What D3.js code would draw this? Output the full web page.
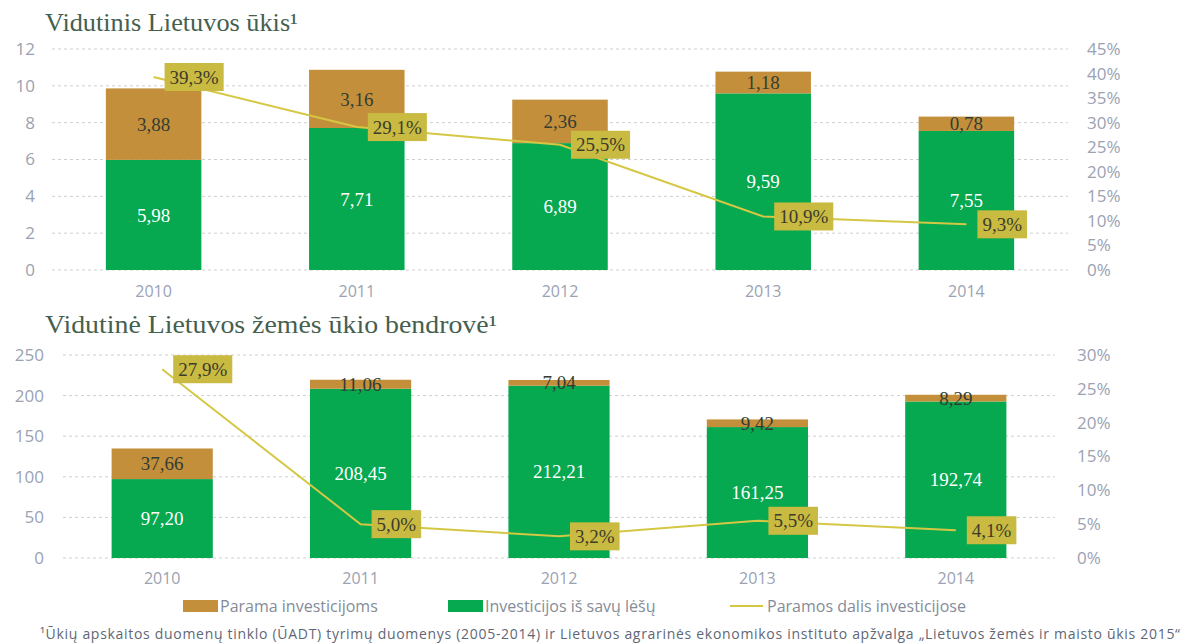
<!DOCTYPE html>
<html>
<head>
<meta charset="utf-8">
<script src="https://cdn.jsdelivr.net/npm/d3@7"></script>
<style>
  body { margin: 0; background: #fff; }
  svg { display: block; }
  .c-axis text { font-family: "Open Sans", sans-serif; fill: #9aa2b3; }
  .c-axis path, .c-axis line { display: none; }
  .c-grid line { stroke: #cfcfcf; stroke-dasharray: 3 3; }
</style>
</head>
<body>
<div id="chart"></div>
<script>
const years = ['2010', '2011', '2012', '2013', '2014'];

// Vidutinis Lietuvos ūkis
const farmSupport = [3.88, 3.16, 2.36, 1.18, 0.78];
const farmOwn = [5.98, 7.71, 6.89, 9.59, 7.55];
const farmShare = [39.3, 29.1, 25.5, 10.9, 9.3];
const farmTicks = [0, 2, 4, 6, 8, 10, 12];
const farmShareTicks = [0, 5, 10, 15, 20, 25, 30, 35, 40, 45];

// Vidutinė Lietuvos žemės ūkio bendrovė
const companySupport = [37.66, 11.06, 7.04, 9.42, 8.29];
const companyOwn = [97.20, 208.45, 212.21, 161.25, 192.74];
const companyShare = [27.9, 5.0, 3.2, 5.5, 4.1];
const companyTicks = [0, 50, 100, 150, 200, 250];
const companyShareTicks = [0, 5, 10, 15, 20, 25, 30];

const legendLabels = ['Parama investicijoms', 'Investicijos iš savų lėšų', 'Paramos dalis investicijose'];

const colorSupport = '#c48f3b';
const colorOwn = '#06a850';
const colorLine = '#d5c744';
const colorBox = '#c9ba41';

const width = 1185;
const height = 644;

const svg = d3.select('#chart').append('svg')
  .attr('width', width)
  .attr('height', height);

const comma = (v, digits) => v.toFixed(digits).replace('.', ',');

function drawPanel (cfg) {
  const g = svg.append('g');

  g.append('text')
    .attr('x', 45)
    .attr('y', cfg.titleY)
    .attr('font-family', '"Liberation Serif", serif')
    .attr('font-size', 25)
    .attr('fill', '#45604f')
    .attr('textLength', cfg.titleLength)
    .attr('lengthAdjust', 'spacingAndGlyphs')
    .text(cfg.title);

  const x = d3.scaleBand().domain(years).range([cfg.left, cfg.right]).paddingInner(cfg.pad).paddingOuter(cfg.pad / 2);
  const y = d3.scaleLinear().domain([0, d3.max(cfg.ticks)]).range([cfg.bottom, cfg.top]);
  const y2 = d3.scaleLinear().domain([0, d3.max(cfg.shareTicks)]).range([cfg.bottom, cfg.top]);

  g.append('g')
    .attr('class', 'c-grid')
    .selectAll('line')
    .data(cfg.ticks)
    .enter()
    .append('line')
    .attr('x1', cfg.left)
    .attr('x2', cfg.right)
    .attr('y1', d => y(d))
    .attr('y2', d => y(d));

  g.append('g')
    .attr('class', 'c-axis')
    .attr('transform', 'translate(' + (cfg.left - 8) + ',0)')
    .call(d3.axisLeft(y).tickValues(cfg.ticks).tickSize(0).tickPadding(cfg.leftPad))
    .selectAll('text').attr('font-size', 17);

  g.append('g')
    .attr('class', 'c-axis')
    .attr('transform', 'translate(' + cfg.rightAxisX + ',0)')
    .call(d3.axisRight(y2).tickValues(cfg.shareTicks).tickSize(0).tickPadding(0).tickFormat(d => d + '%'))
    .selectAll('text').attr('font-size', 17);

  g.append('g')
    .attr('class', 'c-axis')
    .attr('transform', 'translate(0,' + cfg.bottom + ')')
    .call(d3.axisBottom(x).tickSize(0).tickPadding(cfg.yearPad))
    .selectAll('text').attr('font-size', 16);

  const rows = years.map((yr, i) => ({ year: yr, own: cfg.own[i], support: cfg.support[i], share: cfg.share[i] }));

  const bars = g.append('g').selectAll('g').data(rows).enter().append('g');

  bars.append('rect')
    .attr('x', d => x(d.year))
    .attr('width', x.bandwidth())
    .attr('y', d => y(d.own))
    .attr('height', d => y(0) - y(d.own))
    .attr('fill', colorOwn);

  bars.append('rect')
    .attr('x', d => x(d.year))
    .attr('width', x.bandwidth())
    .attr('y', d => y(d.own + d.support))
    .attr('height', d => y(d.own) - y(d.own + d.support))
    .attr('fill', colorSupport);

  bars.append('text')
    .attr('x', d => x(d.year) + x.bandwidth() / 2)
    .attr('y', d => y(d.own / 2))
    .attr('dy', '0.35em')
    .attr('text-anchor', 'middle')
    .attr('font-family', '"Liberation Serif", serif')
    .attr('font-size', 19)
    .attr('fill', '#fff')
    .text(d => comma(d.own, 2));

  bars.append('text')
    .attr('x', d => x(d.year) + x.bandwidth() / 2)
    .attr('y', d => y(d.own + d.support / 2))
    .attr('dy', '0.35em')
    .attr('text-anchor', 'middle')
    .attr('font-family', '"Liberation Serif", serif')
    .attr('font-size', 19)
    .attr('fill', '#333d33')
    .text(d => comma(d.support, 2));

  const cx = d => x(d.year) + x.bandwidth() / 2;

  const line = d3.line().x(cx).y(d => y2(d.share));

  g.append('path')
    .attr('d', line(rows))
    .attr('fill', 'none')
    .attr('stroke', colorLine)
    .attr('stroke-width', 2);

  const boxes = g.append('g').selectAll('g').data(rows).enter().append('g')
    .attr('transform', d => 'translate(' + (cx(d) + 11) + ',' + y2(d.share) + ')');

  const boxText = boxes.append('text')
    .attr('x', 5)
    .attr('dy', '0.35em')
    .attr('font-family', '"Liberation Serif", serif')
    .attr('font-size', 19)
    .attr('fill', '#3c3c2c')
    .text(d => comma(d.share, 1) + '%');

  boxText.each(function () {
    const w = this.getComputedTextLength();
    d3.select(this.parentNode).insert('rect', 'text')
      .attr('x', 0)
      .attr('y', -14)
      .attr('width', w + 10)
      .attr('height', 28)
      .attr('fill', colorBox);
  });
}

drawPanel({
  title: 'Vidutinis Lietuvos ūkis¹',
  titleY: 31, titleLength: 253,
  left: 52, right: 1068, top: 49, bottom: 270,
  pad: 0.53, leftPad: 9, rightAxisX: 1087, yearPad: 16,
  ticks: farmTicks, shareTicks: farmShareTicks,
  own: farmOwn, support: farmSupport, share: farmShare
});

drawPanel({
  title: 'Vidutinė Lietuvos žemės ūkio bendrovė¹',
  titleY: 333, titleLength: 452,
  left: 63, right: 1055, top: 355, bottom: 558,
  pad: 0.49, leftPad: 11, rightAxisX: 1077, yearPad: 15,
  ticks: companyTicks, shareTicks: companyShareTicks,
  own: companyOwn, support: companySupport, share: companyShare
});

// legend
const legend = svg.append('g').attr('transform', 'translate(0,606)');
const legendItems = [
  { x: 183, label: legendLabels[0], color: colorSupport, kind: 'rect' },
  { x: 448, label: legendLabels[1], color: colorOwn, kind: 'rect' },
  { x: 730, label: legendLabels[2], color: colorLine, kind: 'line' }
];

legendItems.forEach(item => {
  if (item.kind === 'rect') {
    legend.append('rect').attr('x', item.x).attr('y', -6).attr('width', 35).attr('height', 12).attr('fill', item.color);
  } else {
    legend.append('line').attr('x1', item.x).attr('x2', item.x + 33).attr('y1', 0).attr('y2', 0)
      .attr('stroke', item.color).attr('stroke-width', 2);
  }
  legend.append('text')
    .attr('x', item.x + 37)
    .attr('dy', '0.35em')
    .attr('font-family', '"Open Sans", sans-serif')
    .attr('font-size', 16)
    .attr('fill', '#858c98')
    .text(item.label);
});

svg.append('text')
  .attr('x', 40)
  .attr('y', 639)
  .attr('font-family', '"Open Sans", sans-serif')
  .attr('font-size', 14)
  .attr('fill', '#5f6776')
  .attr('textLength', 1140)
  .attr('lengthAdjust', 'spacing')
  .text('¹Ūkių apskaitos duomenų tinklo (ŪADT) tyrimų duomenys (2005-2014) ir Lietuvos agrarinės ekonomikos instituto apžvalga „Lietuvos žemės ir maisto ūkis 2015“');
</script>
</body>
</html>
